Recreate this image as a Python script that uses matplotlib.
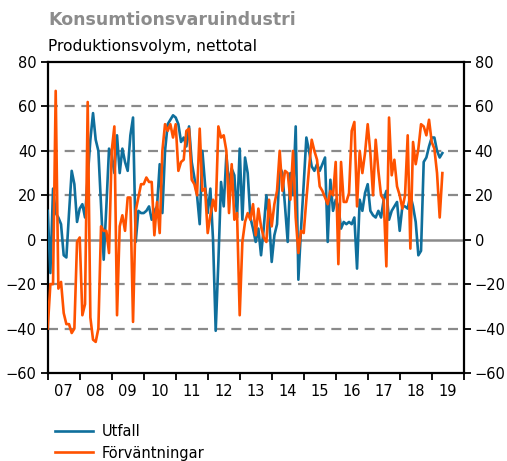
import numpy as np
import matplotlib
matplotlib.use("Agg")
import matplotlib.pyplot as plt
from matplotlib.ticker import MultipleLocator, FixedLocator, NullFormatter

# monthly values, Jan 2007 - May 2019
utfall = [
    13, -15, 23, 12, 10, 7, -7, -8, 12, 31, 25, 8,
    14, 16, 10, 28, 45, 57, 45, 40, 15, -9, 15, 41,
    38, 30, 47, 30, 41, 35, 31, 47, 55, -1, 13, 12,
    12, 13, 15, 9, 13, 15, 34, 12, 40, 52, 54, 56,
    55, 52, 44, 46, 42, 51, 35, 28, 20, 7, 40, 25,
    12, 23, 0, -41, -10, 26, 15, 38, 25, 32, 29, 10,
    41, 9, 37, 30, 10, 5, -1, 5, -7, 5, 20, 10,
    -10, 2, 7, 33, 30, 15, -1, 30, 20, 51, -18, 5,
    25, 46, 40, 33, 31, 34, 31, 34, 37, -1, 27, 13,
    18, 15, 5, 8, 7, 8, 7, 10, -13, 18, 13, 21,
    25, 13, 11, 10, 13, 10, 18, 22, 9, 13, 15, 17,
    4, 15, 15, 14, 20, 15, 8, -7, -5, 35, 37, 42,
    46, 46, 40, 37, 39,
]

forvantningar = [
    -40, -20, -20, 67, -22, -19, -33, -38, -38, -42, -40, -1,
    1, -34, -29, 62, -35, -45, -46, -40, 6, 4, 4, -6,
    40, 51, -34, 6, 11, 4, 19, 19, -37, 13, 19, 25,
    25, 28, 26, 26, 2, 17, 3, 40, 52, 49, 52, 46,
    52, 31, 35, 36, 49, 50, 27, 25, 20, 50, 22, 23,
    3, 11, 18, 13, 51, 46, 47, 40, 12, 34, 9, 12,
    -34, -1, 8, 12, 9, 16, 2, 14, 6, 1, -1, 18,
    6, 16, 22, 40, 22, 31, 30, 18, 40, 10, -6, 4,
    3, 18, 32, 45, 40, 36, 24, 22, 19, 16, 22, 20,
    35, -11, 35, 17, 17, 21, 49, 53, 15, 40, 30, 39,
    52, 39, 20, 45, 31, 20, 18, -12, 55, 29, 36, 24,
    20, 14, 20, 47, -4, 44, 34, 41, 52, 51, 47, 54,
    44, 41, 30, 10, 30,
]

start_year = 2007
year_labels = ["07", "08", "09", "10", "11", "12", "13",
               "14", "15", "16", "17", "18", "19"]

blue = "#0f6f9c"
orange = "#ff5200"
grid_grey = "#8a8a8a"

x = start_year + np.arange(len(utfall)) / 12

fig = plt.figure(figsize=(5.07, 4.61), dpi=100)
ax = fig.add_axes([47.7 / 507, 1 - 373 / 461, 416 / 507, 311 / 461])

for v in [60, 40, 20, -20, -40]:
    ax.axhline(v, color=grid_grey, lw=1.6, ls=(0, (4.5, 3)), zorder=1)
ax.axhline(0, color=grid_grey, lw=1.8, zorder=1)

ax.plot(x, utfall, color=blue, lw=1.9, label="Utfall", zorder=3)
ax.plot(x, forvantningar, color=orange, lw=1.9, label="Förväntningar", zorder=3)

n_years = len(year_labels)
ax.set_xlim(start_year, start_year + n_years)
ax.set_ylim(-60, 80)
ax.yaxis.set_major_locator(MultipleLocator(20))

ax.xaxis.set_major_locator(FixedLocator(start_year + np.arange(n_years + 1)))
ax.xaxis.set_major_formatter(NullFormatter())
ax.xaxis.set_minor_locator(FixedLocator(start_year + np.arange(n_years) + 0.5))
ax.set_xticklabels(year_labels, minor=True)
ax.tick_params(axis="x", which="minor", length=0, pad=8, labelsize=10.5)
ax.tick_params(axis="x", which="major", length=5, width=1.3, direction="out")
ax.tick_params(axis="y", which="major", length=5, width=1.3, direction="out",
               left=True, right=True, labelleft=True, labelright=True,
               labelsize=10.5, pad=3)

for s in ax.spines.values():
    s.set_linewidth(1.6)
    s.set_color("black")

fig.text(48 / 507, 1 - 20 / 461, "Konsumtionsvaruindustri", fontsize=12.5,
         fontweight="bold", color="#8c8c8c", va="center", ha="left")
fig.text(48 / 507, 1 - 46 / 461, "Produktionsvolym, nettotal", fontsize=11.2,
         color="black", va="center", ha="left")

fig.legend(loc="upper left", bbox_to_anchor=(55 / 507, 1 - 424 / 461),
           frameon=False, fontsize=10.5, handlelength=2.6, handletextpad=0.6,
           labelspacing=0.45, borderpad=0, borderaxespad=0)

fig.savefig("out.png", dpi=100)
